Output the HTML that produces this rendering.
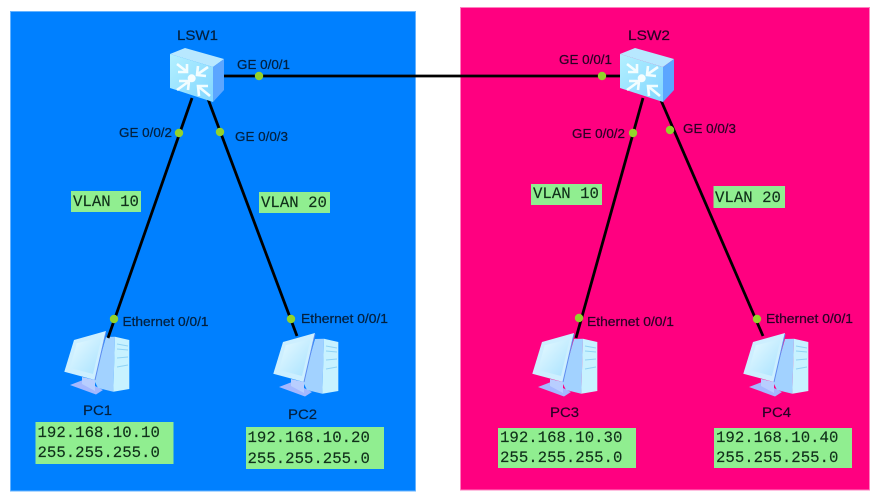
<!DOCTYPE html>
<html>
<head>
<meta charset="utf-8">
<style>
html,body{margin:0;padding:0;background:#fff;width:880px;height:502px;overflow:hidden}
svg{display:block;filter:blur(0.35px)}
.l{font:13px "Liberation Sans",sans-serif;stroke-width:.25px}
.n{font:14px "Liberation Sans",sans-serif;stroke-width:.2px}
.m{font:15.7px "Liberation Mono",monospace;fill:#10301a;stroke:#10301a;stroke-width:.15px}
.b{fill:#03203f;stroke:#03203f}
.p{fill:#2a0026;stroke:#2a0026}
</style>
</head>
<body>
<svg width="880" height="502" viewBox="0 0 880 502" xmlns="http://www.w3.org/2000/svg">
<defs>
<linearGradient id="sf" x1="0" y1="0" x2="1" y2="1"><stop offset="0" stop-color="#b4f0ff"/><stop offset="1" stop-color="#82d6ff"/></linearGradient>
<linearGradient id="mon" x1="0" y1="0" x2="1" y2="1"><stop offset="0" stop-color="#e8faff"/><stop offset="1" stop-color="#a8e2ff"/></linearGradient>
<g id="sw">
<path d="M0 6 L15 0 L54 11 L43 19 Z" fill="#b8e8ff"/>
<path d="M0 6 L43 19 L43 54 L0 40 Z" fill="url(#sf)"/>
<path d="M43 19 L54 11 L54 42 L43 54 Z" fill="#5ca6ff"/>
<g fill="none" stroke="#f2fdff" stroke-width="2.600">
<path d="M7 16 L16 23 M8 24 L17 24 L17 16"/>
<path d="M38 19 L28 26 M28 18 L27 27 L36 28"/>
<path d="M7 42 L18 34 M9 33 L19 33 L18 42"/>
<path d="M40 48 L29 39 M29 48 L28 38 L38 38"/>
</g>
<circle cx="21.700" cy="30.300" r="4" fill="#f6feff"/>
</g>
<g id="pc">
<path d="M6 54 L19 49 L39 59 L32 63.500 Z" fill="#a4b8ff"/>
<path d="M18 46 L31 49 L31 60 L18 53 Z" fill="#b8ceff"/>
<path d="M42 6 L51 5.700 L49.300 60.700 L34 57 L30 49 Z" fill="#a2d2ff"/>
<path d="M51 5.700 L65.300 9 L65.300 58 L49.300 60.700 Z" fill="#c8f2ff"/>
<path d="M53 13 L64 15 M53 18 L64 19 M53 27 L64 26 M53 36 L64 34" stroke="#8fd3f5" stroke-width="1"/>
<path d="M0.300 40.700 L10 9 L42 0 L31 49 Z" fill="#cdefff"/>
<path d="M6 37 L12.700 12.300 L37.700 6.300 L29 43 Z" fill="url(#mon)"/>
<path d="M42 1 L31 49" stroke="#5f8cf0" stroke-width="1"/>
</g>
</defs>
<rect width="880" height="502" fill="#fff"/>
<rect x="10.500" y="11.500" width="405" height="479.500" fill="#0080ff" stroke="#66b3ff" stroke-width="1"/>
<rect x="460.500" y="7.500" width="409" height="482.500" fill="#ff0080" stroke="#ff80c0" stroke-width="1"/>

<use href="#pc" x="64" y="331"/>
<use href="#pc" x="273" y="333"/>
<use href="#pc" x="532" y="333"/>
<use href="#pc" x="743" y="333"/>

<g stroke="#000" stroke-width="2.800" fill="none">
<path d="M222 76 L622 76"/>
<path d="M192 98 L108 338"/>
<path d="M208 99 L297 336"/>
<path d="M643 98 L576 338"/>
<path d="M660 98 L763 336"/>
</g>

<use href="#sw" x="170" y="48"/>
<use href="#sw" x="620" y="48"/>

<g fill="#92d32a">
<circle cx="259" cy="76" r="4.200"/><circle cx="602" cy="76" r="4.200"/>
<circle cx="179" cy="133" r="4.200"/><circle cx="220" cy="132" r="4.200"/>
<circle cx="633" cy="133" r="4.200"/><circle cx="670" cy="130" r="4.200"/>
<circle cx="114" cy="319" r="4.200"/><circle cx="291" cy="319" r="4.200"/>
<circle cx="579" cy="318" r="4.200"/><circle cx="757" cy="319" r="4.200"/>
</g>

<g class="n b">
<text x="177" y="40" textLength="41" lengthAdjust="spacingAndGlyphs">LSW1</text>
<text x="83" y="415" textLength="29" lengthAdjust="spacingAndGlyphs">PC1</text>
<text x="288" y="419" textLength="29" lengthAdjust="spacingAndGlyphs">PC2</text>
</g>
<g class="n p">
<text x="628" y="40" textLength="42" lengthAdjust="spacingAndGlyphs">LSW2</text>
<text x="550" y="417" textLength="29" lengthAdjust="spacingAndGlyphs">PC3</text>
<text x="762" y="417" textLength="29" lengthAdjust="spacingAndGlyphs">PC4</text>
</g>

<g class="l b">
<text x="237" y="69" textLength="53" lengthAdjust="spacingAndGlyphs">GE 0/0/1</text>
<text x="119" y="137" textLength="53" lengthAdjust="spacingAndGlyphs">GE 0/0/2</text>
<text x="235" y="141" textLength="53" lengthAdjust="spacingAndGlyphs">GE 0/0/3</text>
<text x="122.500" y="326" textLength="86" lengthAdjust="spacingAndGlyphs">Ethernet 0/0/1</text>
<text x="301" y="323" textLength="87" lengthAdjust="spacingAndGlyphs">Ethernet 0/0/1</text>
</g>
<g class="l p">
<text x="559" y="64" textLength="53" lengthAdjust="spacingAndGlyphs">GE 0/0/1</text>
<text x="572" y="138" textLength="53" lengthAdjust="spacingAndGlyphs">GE 0/0/2</text>
<text x="683" y="133" textLength="53" lengthAdjust="spacingAndGlyphs">GE 0/0/3</text>
<text x="587" y="326" textLength="87" lengthAdjust="spacingAndGlyphs">Ethernet 0/0/1</text>
<text x="766" y="323" textLength="87" lengthAdjust="spacingAndGlyphs">Ethernet 0/0/1</text>
</g>

<g fill="#90ee90">
<rect x="71" y="191" width="70" height="21"/>
<rect x="259" y="192" width="71" height="21"/>
<rect x="531" y="184" width="71" height="21"/>
<rect x="713.500" y="186" width="71.500" height="22"/>
<rect x="35.500" y="422" width="138" height="42"/>
<rect x="246" y="427" width="138" height="42"/>
<rect x="498" y="428" width="138" height="40"/>
<rect x="714" y="428" width="138" height="40"/>
</g>

<g class="m">
<text x="73" y="206">VLAN 10</text>
<text x="261" y="207">VLAN 20</text>
<text x="533" y="198">VLAN 10</text>
<text x="715" y="202">VLAN 20</text>
<text x="37.500" y="437">192.168.10.10</text>
<text x="37.500" y="457">255.255.255.0</text>
<text x="247.500" y="442">192.168.10.20</text>
<text x="247.500" y="463">255.255.255.0</text>
<text x="500" y="442">192.168.10.30</text>
<text x="500" y="462">255.255.255.0</text>
<text x="716" y="442">192.168.10.40</text>
<text x="716" y="462">255.255.255.0</text>
</g>
</svg>
</body>
</html>
